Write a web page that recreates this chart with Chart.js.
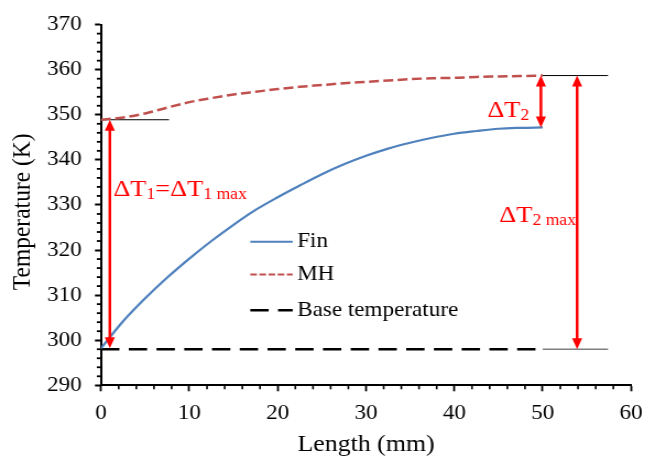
<!DOCTYPE html>
<html><head><meta charset="utf-8">
<script src="https://cdn.jsdelivr.net/npm/chart.js@4.4.0/dist/chart.umd.min.js"></script>
<style>
html,body{margin:0;padding:0;background:#fff;overflow:hidden;}
#wrap{width:595px;height:459px;transform:scaleX(1.10084);transform-origin:0 0;}
canvas{display:block;}
</style></head><body>
<div id="wrap"><canvas id="c" width="595" height="459"></canvas></div>
<script>
// ---------- data ----------
const lengthMm = [0,2.5,5,7.5,10,12.5,15,17.5,20,22.5,25,27.5,30,32.5,35,37.5,40,42.5,45,47.5,50];
const finTemp  = [298.2,304.2,309.3,313.9,318.1,322.0,325.6,328.9,331.7,334.3,336.8,339.0,340.9,342.5,343.8,344.9,345.8,346.4,346.9,347.1,347.2];
const mhTemp   = [348.9,349.4,350.3,351.6,352.8,353.7,354.5,355.1,355.7,356.2,356.6,357.0,357.3,357.6,357.9,358.1,358.2,358.4,358.5,358.6,358.7];
const baseX    = [0,50];
const baseTemp = [298,298];
const refLeftX = [0,7.7];    const refLeftT   = [348.9,348.9];
const refRightX = [50,57.4]; const refTopT    = [358.7,358.7];
const refBottomT = [298,298];
const xTickLabels = [0,10,20,30,40,50,60];
const yTickLabels = [290,300,310,320,330,340,350,360,370];
const arrowX    = [1.0, 49.8, 53.9];
const arrowFrom = [298.2, 347.2, 298.0];
const arrowTo   = [348.9, 358.7, 358.7];
const seriesNames = ['Fin','MH','Base temperature'];
const annoTexts = [
  [['ΔT',0],['1',1],['=ΔT',0],['1 max',1]],
  [['ΔT',0],['2',1]],
  [['ΔT',0],['2 max',1]]
];
const annoX = [1.39, 43.73, 45.09];
const annoY = [331.9, 349.6, 326.2];

const FONT = '"Liberation Serif","Times New Roman",serif';
const pts = (xs, ys) => xs.map((x,i)=>({x, y: ys[i]}));

const minorTicks = {
  id:'minorTicks',
  afterDraw(chart){
    const {ctx, scales:{x, y}, chartArea:a} = chart;
    ctx.save();
    ctx.strokeStyle = '#000'; ctx.lineWidth = 1.6;
    for (let v = 0; v <= 60; v += 2) {
      if (v % 10 === 0) continue;
      const px = x.getPixelForValue(v);
      ctx.beginPath(); ctx.moveTo(px, a.bottom); ctx.lineTo(px, a.bottom + 4); ctx.stroke();
    }
    ctx.lineWidth = 1.8;
    for (let v = 290; v <= 370; v += 2) {
      if (v % 10 === 0) continue;
      const py = y.getPixelForValue(v);
      ctx.beginPath(); ctx.moveTo(a.left, py); ctx.lineTo(a.left - 3.8, py); ctx.stroke();
    }
    ctx.restore();
  }
};

const arrowsPlugin = {
  id:'arrows',
  afterDatasetsDraw(chart){
    const {ctx, scales:{x, y}} = chart;
    ctx.save();
    ctx.strokeStyle = '#FF0000'; ctx.fillStyle = '#FF0000'; ctx.lineWidth = 2.5;
    const hl = 11, hw = 4.6;
    arrowX.forEach((xv, i) => {
      const px = x.getPixelForValue(xv);
      const yb = y.getPixelForValue(arrowFrom[i]);
      const yt = y.getPixelForValue(arrowTo[i]);
      ctx.beginPath(); ctx.moveTo(px, yb - hl + 1); ctx.lineTo(px, yt + hl - 1); ctx.stroke();
      ctx.beginPath(); ctx.moveTo(px, yt); ctx.lineTo(px - hw, yt + hl); ctx.lineTo(px + hw, yt + hl); ctx.closePath(); ctx.fill();
      ctx.beginPath(); ctx.moveTo(px, yb); ctx.lineTo(px - hw, yb - hl); ctx.lineTo(px + hw, yb - hl); ctx.closePath(); ctx.fill();
    });
    ctx.textAlign = 'left'; ctx.textBaseline = 'alphabetic';
    annoTexts.forEach((segs, i) => {
      let cx = x.getPixelForValue(annoX[i]);
      const by = y.getPixelForValue(annoY[i]);
      segs.forEach(([t, sub]) => {
        ctx.font = (sub ? 16 : 24) + 'px ' + FONT;
        ctx.fillText(t, cx, sub ? by + 3 : by);
        cx += ctx.measureText(t).width;
      });
    });
    ctx.restore();
  }
};

const legendPlugin = {
  id:'customLegend',
  afterDraw(chart){
    const {ctx, scales:{x, y}} = chart;
    const rowsT = [321.85, 314.55, 306.66];
    const x0 = x.getPixelForValue(16.9), x1 = x.getPixelForValue(21.7), xt = x.getPixelForValue(22.2);
    const samples = [
      {color:'#4F81BD', width:2, dash:[]},
      {color:'#C0504D', width:2, dash:[6,2.3]},
      {color:'#000000', width:2.5, dash:[16.7,8.5]}
    ];
    ctx.save();
    ctx.font = '21px ' + FONT; ctx.fillStyle = '#000';
    ctx.textAlign = 'left'; ctx.textBaseline = 'middle';
    seriesNames.forEach((name, i) => {
      const py = y.getPixelForValue(rowsT[i]);
      const s = samples[i];
      ctx.strokeStyle = s.color; ctx.lineWidth = s.width; ctx.setLineDash(s.dash);
      ctx.beginPath(); ctx.moveTo(x0, py); ctx.lineTo(x1, py); ctx.stroke();
      ctx.setLineDash([]);
      ctx.fillText(name, xt, py);
    });
    ctx.restore();
  }
};

new Chart(document.getElementById('c'), {
  type:'line',
  data:{
    datasets:[
      {label:seriesNames[0], data:pts(lengthMm, finTemp), borderColor:'#4F81BD', borderWidth:2.2, pointRadius:0, cubicInterpolationMode:'monotone', fill:false},
      {label:seriesNames[1], data:pts(lengthMm, mhTemp), borderColor:'#C0504D', borderWidth:2.5, borderDash:[9,4], pointRadius:0, cubicInterpolationMode:'monotone', fill:false},
      {label:seriesNames[2], data:pts(baseX, baseTemp), borderColor:'#000000', borderWidth:2.5, borderDash:[16.7,8.5], pointRadius:0, fill:false},
      {label:'refLeft', data:pts(refLeftX, refLeftT), borderColor:'#000000', borderWidth:1, pointRadius:0},
      {label:'refTop', data:pts(refRightX, refTopT), borderColor:'#000000', borderWidth:1, pointRadius:0},
      {label:'refBottom', data:pts(refRightX, refBottomT), borderColor:'#7F7F7F', borderWidth:1.5, pointRadius:0}
    ]
  },
  options:{
    responsive:false, animation:false, devicePixelRatio:1,
    layout:{padding:{top:20, right:21.8, left:0, bottom:0}},
    plugins:{legend:{display:false}, tooltip:{enabled:false}},
    scales:{
      x:{
        type:'linear', min:0, max:60,
        afterBuildTicks: s => { s.ticks = xTickLabels.map(v => ({value:v})); },
        afterFit: s => { s.height = 73.7; },
        grid:{drawOnChartArea:false, drawTicks:true, tickLength:6, tickWidth:1.8, tickColor:'#000'},
        border:{display:true, color:'#000', width:2},
        ticks:{color:'#000', font:{family:FONT, size:21}, padding:10, maxRotation:0, autoSkip:false},
        title:{display:true, text:'Length (mm)', color:'#000', font:{family:FONT, size:23.5}, padding:{top:0, bottom:0}}
      },
      y:{
        type:'linear', min:290, max:370,
        afterBuildTicks: s => { s.ticks = yTickLabels.map(v => ({value:v})); },
        afterFit: s => { s.width = 91.75; },
        grid:{drawOnChartArea:false, drawTicks:true, tickLength:5.5, tickWidth:2, tickColor:'#000'},
        border:{display:true, color:'#000', width:2},
        ticks:{color:'#000', font:{family:FONT, size:21}, padding:12, autoSkip:false},
        title:{display:true, text:'Temperature (K)  \u200A', color:'#000', font:{family:FONT, size:23.5}, padding:{top:7, bottom:0}}
      }
    }
  },
  plugins:[minorTicks, arrowsPlugin, legendPlugin]
});
</script>
</body></html>
